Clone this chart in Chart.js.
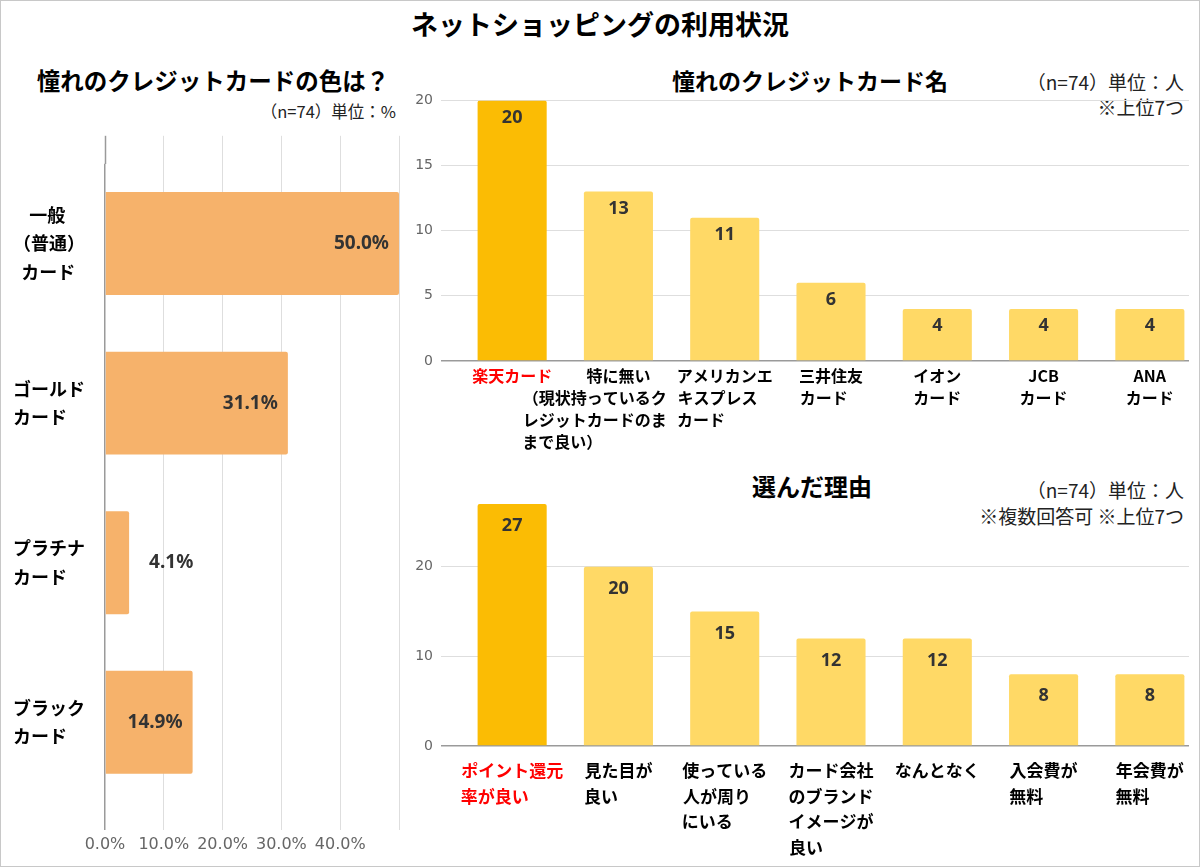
<!DOCTYPE html>
<html><head><meta charset="utf-8">
<script src="https://cdn.jsdelivr.net/npm/chart.js@4.4.1/dist/chart.umd.min.js"></script>
<style>
html,body{margin:0;padding:0;background:#fff;overflow:hidden;width:1200px;height:867px;}
.frame{position:absolute;left:0;top:0;width:1198px;height:865px;border:1px solid #c8c8c8;pointer-events:none;z-index:5;}
.t{position:absolute;white-space:nowrap;font-family:"Noto Sans CJK JP","Noto Sans",sans-serif;color:#000;line-height:1;}
.b{font-weight:bold;}
.note{color:#222;text-align:right;}
.box{position:absolute;overflow:hidden;}
canvas{display:block;}
</style></head>
<body>
<div class="frame"></div>
<div class="t b" style="left:0;width:1200px;text-align:center;top:10px;font-size:27px;">ネットショッピングの利用状況</div>

<div class="t b" style="left:0;width:426px;text-align:center;top:69px;font-size:23.5px;">憧れのクレジットカードの色は？</div>
<div class="t note" style="right:804px;top:103px;font-size:16.5px;">（n=74）単位：%</div>

<div class="t b" style="left:610px;width:400px;text-align:center;top:69px;font-size:23px;">憧れのクレジットカード名</div>
<div class="t note" style="right:16px;top:72px;font-size:19px;">（n=74）単位：人</div>
<div class="t note" style="right:16px;top:97px;font-size:19px;">※上位7つ</div>

<div class="t b" style="left:612px;width:400px;text-align:center;top:474px;font-size:24px;">選んだ理由</div>
<div class="t note" style="right:16px;top:480px;font-size:19px;">（n=74）単位：人</div>
<div class="t note" style="right:16px;top:506px;font-size:19px;">※複数回答可 ※上位7つ</div>

<div class="box" style="left:0;top:135px;width:410px;height:725px;"><canvas id="c1" width="410" height="725"></canvas></div>
<div class="box" style="left:400px;top:84px;width:789px;height:379px;"><canvas id="c2" width="803" height="379"></canvas></div>
<div class="box" style="left:400px;top:460px;width:789px;height:405px;"><canvas id="c3" width="803" height="405"></canvas></div>

<script>
// ---------- data ----------
const colorCategories = [['一般', '（普通）', 'カード'], ['ゴールド', 'カード'], ['プラチナ', 'カード'], ['ブラック', 'カード']];
const colorShares = [50.0, 31.1, 4.1, 14.9];
const pctTicks = [0, 10, 20, 30, 40, 50];
const pctTickLabels = ['0.0%', '10.0%', '20.0%', '30.0%', '40.0%'];

const cardCategories = [['楽天カード'], ['特に無い', '（現状持っているク', 'レジットカードのま', 'まで良い）'], ['アメリカンエ', 'キスプレス', 'カード'], ['三井住友', 'カード'], ['イオン', 'カード'], ['JCB', 'カード'], ['ANA', 'カード']];
const cardCounts = [20, 13, 11, 6, 4, 4, 4];
const cardTicks = [0, 5, 10, 15, 20];

const reasonCategories = [['ポイント還元', '率が良い'], ['見た目が', '良い'], ['使っている', '人が周り', 'にいる'], ['カード会社', 'のブランド', 'イメージが', '良い'], ['なんとなく'], ['入会費が', '無料'], ['年会費が', '無料']];
const reasonCounts = [27, 20, 15, 12, 12, 8, 8];
const reasonTicks = [0, 10, 20];

// ---------- helpers ----------
const JP = '"Noto Sans CJK JP", "Noto Sans", sans-serif';
const mctx = document.createElement('canvas').getContext('2d');

// centre every line of a label block (left chart, first category)
function centerLines(lines, font) {
  mctx.font = font;
  const w = s => mctx.measureText(s).width;
  const max = Math.max(...lines.map(w));
  const sp = w(' ');
  return lines.map(l => ' '.repeat(Math.max(0, Math.round((max - w(l)) / 2 / sp))) + l);
}

// column labels: first line centred on its category, following lines left-aligned
// in a block; the block is nudged left when it would collide with the next label
function layoutLabels(cats, font, catWidth, gap) {
  mctx.font = font;
  const w = s => mctx.measureText(s).width;
  const sp = w(' ');
  const info = cats.map(lines => { const ws = lines.map(w); return { lines, ws, B: Math.max(...ws), shift: 0 }; });
  const extent = (inf, i, k) => {
    const c = (i + 0.5) * catWidth;
    if (k === 0) return [c - inf.ws[0] / 2, c + inf.ws[0] / 2];
    const L = c - inf.B / 2 - inf.shift;
    return [L, L + inf.ws[k]];
  };
  for (let i = info.length - 2; i >= 0; i--) {
    const a = info[i], b = info[i + 1];
    let need = 0;
    for (let k = 1; k < Math.min(a.lines.length, b.lines.length); k++) {
      need = Math.max(need, extent(a, i, k)[1] + gap - extent(b, i + 1, k)[0]);
    }
    a.shift = Math.max(0, need);
  }
  return info.map(inf => {
    const n = Math.round(2 * inf.shift / sp);
    return inf.lines.map((l, k) => {
      if (k === 0) return l;
      const fill = Math.max(0, Math.round((inf.B - inf.ws[k]) / sp));
      return l + ' '.repeat(fill + n);
    });
  });
}

const gridColor = c => (c.tick && c.tick.value === 0) ? '#9a9a9a' : '#dedede';
const gridWidth = c => (c.tick && c.tick.value === 0) ? 1.5 : 1;

const valueLabels = {
  id: 'valueLabels',
  afterDatasetsDraw(chart, args, opts) {
    const ctx = chart.ctx;
    const meta = chart.getDatasetMeta(0);
    const data = chart.data.datasets[0].data;
    ctx.save();
    ctx.font = opts.font;
    ctx.fillStyle = opts.color;
    meta.data.forEach((bar, i) => {
      const text = opts.format(data[i]);
      if (chart.options.indexAxis === 'y') {
        const w = ctx.measureText(text).width;
        ctx.textBaseline = 'middle';
        if (bar.x - bar.base > w + 20) {
          ctx.textAlign = 'right';
          ctx.fillText(text, bar.x - 10, bar.y);
        } else {
          ctx.textAlign = 'left';
          ctx.fillText(text, bar.x + 20, bar.y);
        }
      } else {
        ctx.textAlign = 'center';
        ctx.textBaseline = 'middle';
        ctx.fillText(text, bar.x, bar.y + opts.offset);
      }
    });
    ctx.restore();
  }
};

// ---------- left: horizontal bars ----------
const leftLabels = colorCategories.map((l, i) => i === 0 ? centerLines(l, '700 18px ' + JP) : l);
new Chart(document.getElementById('c1'), {
  type: 'bar',
  data: { labels: leftLabels, datasets: [{ data: colorShares, backgroundColor: '#F6B26B', borderRadius: 2, borderSkipped: 'start', barPercentage: 0.645, categoryPercentage: 1 }] },
  options: {
    indexAxis: 'y', responsive: false, animation: false, devicePixelRatio: 1,
    layout: { padding: { left: 13, right: 11, top: 0, bottom: 0 } },
    plugins: { legend: { display: false }, tooltip: { enabled: false },
      valueLabels: { font: '700 19px "Noto Sans", sans-serif', color: '#333', format: v => v.toFixed(1) + '%' } },
    scales: {
      x: { type: 'linear', position: 'bottom', min: 0, max: 50,
        afterBuildTicks: s => { s.ticks = pctTicks.map(v => ({ value: v })); },
        afterFit: s => { s.height = 58; },
        grid: { color: gridColor, tickColor: gridColor, lineWidth: gridWidth, tickWidth: gridWidth, tickLength: 28 },
        border: { display: false },
        ticks: { autoSkip: false, maxRotation: 0, padding: 5, color: '#666', font: { family: '"DejaVu Sans", sans-serif', size: 16 }, callback: (v, i) => pctTickLabels[i] ?? '' } },
      x2: { type: 'linear', axis: 'x', position: 'top', min: 0, max: 50,
        afterBuildTicks: s => { s.ticks = pctTicks.map(v => ({ value: v })); },
        grid: { drawOnChartArea: false, color: gridColor, tickColor: gridColor, tickWidth: gridWidth, tickLength: 28 },
        border: { display: false }, ticks: { display: false } },
      y: { grid: { display: false }, border: { display: false },
        afterFit: s => { s.width = 92; },
        ticks: { crossAlign: 'far', padding: 0, color: '#000', font: { family: JP, size: 18, weight: 'bold', lineHeight: 1.6 } } }
    }
  },
  plugins: [valueLabels]
});

// ---------- right: column charts ----------
const CANVAS_W = 803, YAXIS_W = 59;
function columnChart(id, cats, vals, tickVals, cfg) {
  const labels = layoutLabels(cats, '700 ' + cfg.fontSize + 'px ' + JP, (CANVAS_W - YAXIS_W) / cats.length, 10);
  return new Chart(document.getElementById(id), {
    type: 'bar',
    data: { labels, datasets: [{ data: vals, backgroundColor: vals.map((v, i) => i === 0 ? '#FBBC04' : '#FFD966'), borderRadius: 2, borderSkipped: 'start', barPercentage: 0.65, categoryPercentage: 1 }] },
    options: {
      responsive: false, animation: false, devicePixelRatio: 1,
      layout: { padding: { left: 0, right: 0, top: cfg.top, bottom: 0 } },
      plugins: { legend: { display: false }, tooltip: { enabled: false },
        valueLabels: { font: '700 18px "Noto Sans", sans-serif', color: '#333', offset: cfg.labelOffset, format: v => String(v) } },
      scales: {
        x: { grid: { display: false, drawTicks: false }, border: { display: false },
          afterFit: s => { s.height = cfg.axisHeight; },
          ticks: { autoSkip: false, maxRotation: 0, minRotation: 0, padding: cfg.labelPad,
            color: c => c.index === 0 ? '#FF0000' : '#000',
            font: { family: JP, size: cfg.fontSize, weight: 'bold', lineHeight: cfg.lineHeight } } },
        y: { min: 0, max: cfg.max,
          afterBuildTicks: s => { s.ticks = tickVals.map(v => ({ value: v })); },
          afterFit: s => { s.width = YAXIS_W; },
          grid: { color: gridColor, tickColor: gridColor, lineWidth: gridWidth, tickWidth: gridWidth, tickLength: 18 },
          border: { display: false },
          ticks: { padding: 8, color: '#666', font: { family: '"DejaVu Sans", sans-serif', size: 14 } } }
      }
    },
    plugins: [valueLabels]
  });
}
columnChart('c2', cardCategories, cardCounts, cardTicks, { max: 20, top: 0, axisHeight: 102, labelPad: 4, fontSize: 16, lineHeight: 1.375, labelOffset: 17 });
columnChart('c3', reasonCategories, reasonCounts, reasonTicks, { max: 28, top: 35, axisHeight: 119, labelPad: 12, fontSize: 17, lineHeight: 1.5, labelOffset: 22 });
</script>
</body></html>
